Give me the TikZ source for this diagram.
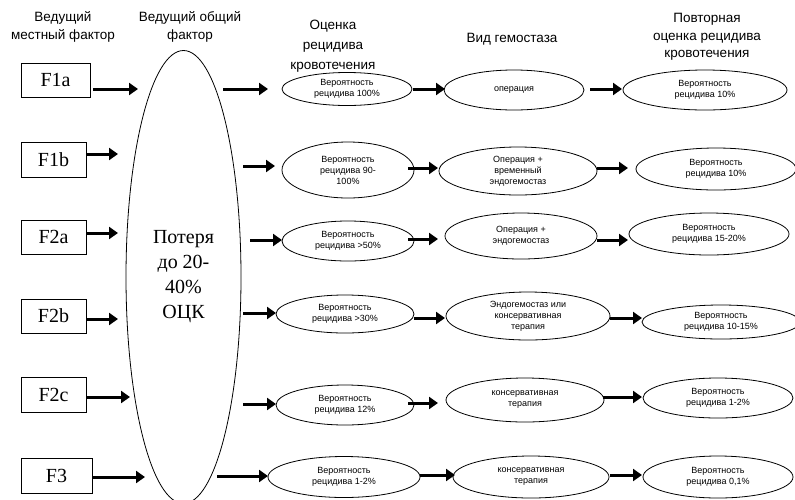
\documentclass[tikz,border=0pt]{standalone}
\usepackage{fontspec}
\setmainfont{Liberation Serif}
\newfontfamily\timesf{Liberation Serif}
\newfontfamily\arialf{Liberation Sans}
\usetikzlibrary{arrows.meta,shapes.geometric}
\begin{document}
\begin{tikzpicture}[x=1pt,y=-1pt,
  arr/.style={line width=3pt,-{Triangle[length=9pt,width=12pt]}},
  fbox/.style={draw,line width=0.8pt,rectangle,inner sep=0pt,outer sep=0pt,minimum height=34pt,font=\timesf\fontsize{20}{24}\selectfont},
  ell/.style={draw,line width=0.8pt,ellipse,inner sep=0pt,outer sep=0pt,align=center,font=\arialf\fontsize{9}{11}\selectfont},
  head/.style={align=center,font=\arialf\fontsize{13.5}{18}\selectfont,inner sep=0pt}]
\useasboundingbox (0,0) rectangle (795,499);
% headers
\node[head] (t1) at (63,27) {Ведущий\\местный фактор};
\node[head] (t2) at (190,27) {Ведущий общий\\фактор};
\node[head,font=\arialf\fontsize{13.5}{20}\selectfont] (t3) at (333,46) {Оценка\\рецидива\\кровотечения};
\node[head] (t4) at (512,39) {Вид гемостаза};
\node[head,font=\arialf\fontsize{13.5}{17.5}\selectfont] (t5) at (707,37) {Повторная\\оценка рецидива\\кровотечения};
% boxes
\node[fbox,minimum width=69pt] (b1) at (55.5,80) {F1a};
\node[fbox,minimum width=65pt,minimum height=35pt] (b2) at (53.5,159.5) {F1b};
\node[fbox,minimum width=65pt] (b3) at (53.5,237) {F2a};
\node[fbox,minimum width=65pt] (b4) at (53.5,316) {F2b};
\node[fbox,minimum width=65pt,minimum height=35pt] (b5) at (53.5,394.5) {F2c};
\node[fbox,minimum width=71pt,minimum height=35pt] (b6) at (56.5,475.5) {F3};
% big ellipse
\node[draw,line width=0.8pt,ellipse,inner sep=0pt,outer sep=0pt,minimum width=115pt,minimum height=453pt,align=center,font=\timesf\fontsize{20}{25}\selectfont] (big) at (183.5,277) {Потеря\\до 20-\\40\%\\ОЦК};
% column 1
\node[ell,minimum width=130pt,minimum height=33pt] (a1) at (347,89) {Вероятность\\рецидива 100\%};
\node[ell,minimum width=132pt,minimum height=56pt] (a2) at (348,170) {Вероятность\\рецидива 90-\\100\%};
\node[ell,minimum width=132pt,minimum height=40pt] (a3) at (348,241) {Вероятность\\рецидива >50\%};
\node[ell,minimum width=138pt,minimum height=38pt] (a4) at (345,314) {Вероятность\\рецидива >30\%};
\node[ell,minimum width=138pt,minimum height=40pt] (a5) at (345,405) {Вероятность\\рецидива 12\%};
\node[ell,minimum width=152pt,minimum height=41pt] (a6) at (344,477) {Вероятность\\рецидива 1-2\%};
% column 2
\node[ell,minimum width=140pt,minimum height=40pt] (h1) at (514,90) {операция};
\node[ell,minimum width=158pt,minimum height=48pt] (h2) at (518,171) {Операция +\\временный\\эндогемостаз};
\node[ell,minimum width=152pt,minimum height=46pt] (h3) at (521,236) {Операция +\\эндогемостаз};
\node[ell,minimum width=164pt,minimum height=48pt] (h4) at (528,316) {Эндогемостаз или\\консервативная\\терапия};
\node[ell,minimum width=158pt,minimum height=44pt] (h5) at (525,400) {консервативная\\терапия};
\node[ell,minimum width=156pt,minimum height=42pt] (h6) at (531,477) {консервативная\\терапия};
% column 3
\node[ell,minimum width=164pt,minimum height=40pt] (r1) at (705,90) {Вероятность\\рецидива 10\%};
\node[ell,minimum width=160pt,minimum height=42pt] (r2) at (716,169) {Вероятность\\рецидива 10\%};
\node[ell,minimum width=160pt,minimum height=42pt] (r3) at (709,234) {Вероятность\\рецидива 15-20\%};
\node[ell,minimum width=158pt,minimum height=34pt] (r4) at (721,322) {Вероятность\\рецидива 10-15\%};
\node[ell,minimum width=150pt,minimum height=40pt] (r5) at (718,398) {Вероятность\\рецидива 1-2\%};
\node[ell,minimum width=150pt,minimum height=42pt] (r6) at (718,477) {Вероятность\\рецидива 0,1\%};
% arrows: boxes -> big ellipse
\draw[arr] ([shift={(3,9)}]b1.east) -- ++(45,0);
\draw[arr] ([shift={(0,-5.5)}]b2.east) -- ++(32,0);
\draw[arr] ([shift={(0,-4)}]b3.east) -- ++(32,0);
\draw[arr] ([shift={(0,3)}]b4.east) -- ++(32,0);
\draw[arr] ([shift={(0,2.5)}]b5.east) -- ++(44,0);
\draw[arr] ([shift={(0,1.5)}]b6.east) -- ++(53,0);
% big ellipse -> column 1
\draw[arr] ([xshift=-59]a1.west) -- ([xshift=-14]a1.west);
\draw[arr] ([shift={(-39,-4)}]a2.west) -- ([shift={(-7,-4)}]a2.west);
\draw[arr] ([shift={(-32,-1)}]a3.west) -- ([shift={(0,-1)}]a3.west);
\draw[arr] ([shift={(-33,-1)}]a4.west) -- ([shift={(0,-1)}]a4.west);
\draw[arr] ([shift={(-33,-1)}]a5.west) -- ([shift={(0,-1)}]a5.west);
\draw[arr] ([shift={(-51,-1)}]a6.west) -- ([shift={(0,-1)}]a6.west);
% column 1 -> column 2
\draw[arr] ([shift={(1,0)}]a1.east) -- ([shift={(1,-1)}]h1.west);
\draw[arr] ([shift={(-6,-2)}]a2.east) -- ([shift={(-1,-3)}]h2.west);
\draw[arr] ([shift={(-6,-2)}]a3.east) -- ([shift={(-7,3)}]h3.west);
\draw[arr] ([shift={(0,4)}]a4.east) -- ([shift={(-1,2)}]h4.west);
\draw[arr] ([shift={(-6,-2)}]a5.east) -- ([shift={(-8,3)}]h5.west);
\draw[arr] ([shift={(0,-2)}]a6.east) -- ([shift={(2,-2)}]h6.west);
% column 2 -> column 3
\draw[arr] ([shift={(6,-1)}]h1.east) -- ([shift={(-1,-1)}]r1.west);
\draw[arr] ([shift={(0,-3)}]h2.east) -- ([shift={(-8,-1)}]r2.west);
\draw[arr] ([shift={(0,4)}]h3.east) -- ([shift={(-1,6)}]r3.west);
\draw[arr] ([shift={(0,2)}]h4.east) -- ([shift={(0,-4)}]r4.west);
\draw[arr] ([shift={(-1,-3)}]h5.east) -- ([shift={(-1,-1)}]r5.west);
\draw[arr] ([shift={(1,-2)}]h6.east) -- ([shift={(-1,-2)}]r6.west);
\end{tikzpicture}
\end{document}
